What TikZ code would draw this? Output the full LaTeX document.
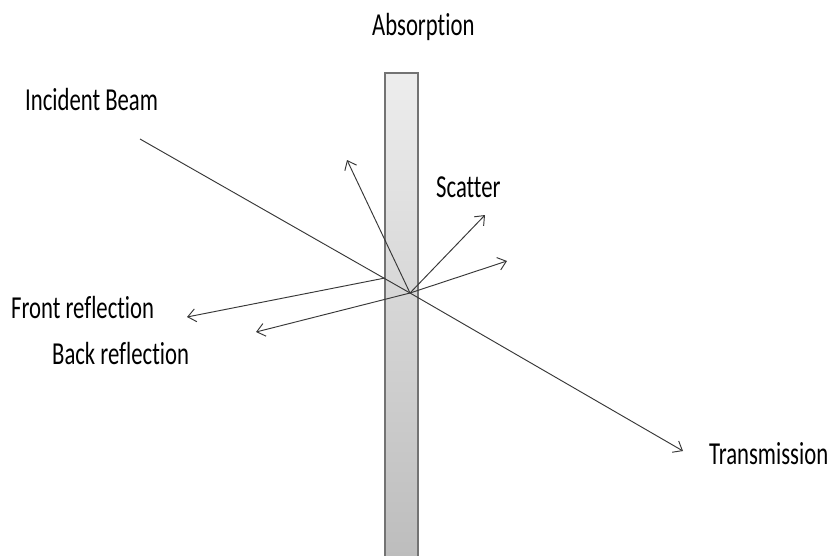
\documentclass[tikz,border=0pt]{standalone}
\usepackage{fontspec}
\setmainfont[Ligatures=NoCommon, Contextuals=NoAlternate]{Carlito}
\usetikzlibrary{arrows.meta}
\definecolor{slabtop}{gray}{0.93}
\definecolor{slabbot}{gray}{0.74}
\definecolor{beamgray}{gray}{0.22}

\begin{document}
\begin{tikzpicture}[x=1pt, y=-1pt,
    beam/.style={draw=beamgray, line width=0.95pt},
    ray/.style={beam, -{Straight Barb[length=8pt, width=13pt]}},
    lbl/.style={inner sep=0pt, anchor=base west, xscale=0.71,
      font=\fontsize{32}{38}\selectfont}]
  \useasboundingbox (0,0) rectangle (829,555);
  % the slab
  \shade[top color=slabtop, bottom color=slabbot] (385,73) rectangle (418,560);
  \draw[black!55, line width=1.5pt] (385,560) -- (385,73) -- (418,73) -- (418,560);
  % labels
  \node[lbl] (absorption) at (372,35.5) {Absorption};
  \node[lbl] (incident) at (25,110) {Incident Beam};
  \node[lbl] (scatter) at (436,197) {Scatter};
  \node[lbl] (frontlbl) at (11,318) {Front reflection};
  \node[lbl] (backlbl) at (52,364) {Back reflection};
  \node[lbl] (transmission) at (709,464) {Transmission};
  % beam points
  \coordinate (src) at (140,139);
  \coordinate (front) at (385,278);
  \coordinate (hit) at (410,293);
  \coordinate (tipT) at (683,451);
  \coordinate (tipUL) at (347,160);
  \coordinate (tipUR) at (485,215);
  \coordinate (tipR) at (507,261);
  \coordinate (tipF) at (187,317);
  \coordinate (tipB) at (256,332);
  % rays
  \draw[beam] (src) -- (hit);
  \draw[ray] (hit) -- (tipT);
  \draw[ray] (front) -- (tipF);
  \draw[ray] (hit) -- (tipB);
  \draw[ray] (hit) -- (tipUL);
  \draw[ray] (hit) -- (tipUR);
  \draw[ray] (hit) -- (tipR);
\end{tikzpicture}
\end{document}
